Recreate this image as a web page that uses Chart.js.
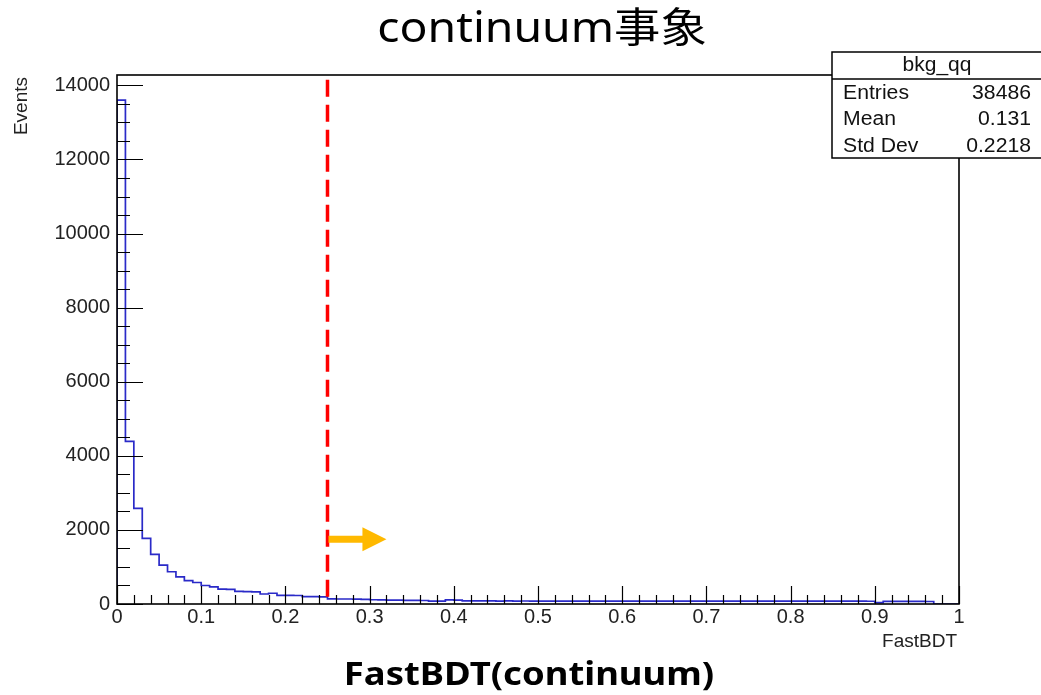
<!DOCTYPE html>
<html><head><meta charset="utf-8">
<script src="https://cdn.jsdelivr.net/npm/chart.js@4.4.0/dist/chart.umd.min.js"></script>
<style>html,body{margin:0;padding:0;background:#fff;}#wrap{width:1041px;height:695px;position:relative;}</style>
</head><body><div id="wrap"><canvas id="c" width="1041" height="695"></canvas></div>
<script>
// ---- data ----
const chartTitle = 'continuum事象';
const bottomLabel = 'FastBDT(continuum)';
const xAxisTitle = 'FastBDT';
const yAxisTitle = 'Events';
const histName = 'bkg_qq';
const statLabels = ['Entries', 'Mean', 'Std Dev'];
const statValues = ['38486', '0.131', '0.2218'];
const binWidth = 0.01;
const binCounts = [
  13600, 4390, 2580, 1770, 1340, 1050, 870, 730, 630, 580,
  500, 460, 400, 395, 340, 335, 330, 270, 290, 235,
  235, 230, 200, 200, 195, 140, 135, 135, 130, 125,
  115, 110, 105, 105, 100, 100, 95, 75, 80, 110,
  105, 85, 85, 82, 84, 80, 82, 80, 81, 79,
  80, 80, 78, 80, 79, 80, 78, 79, 80, 78,
  78, 79, 77, 78, 80, 78, 77, 78, 79, 77,
  78, 77, 78, 76, 78, 77, 76, 78, 77, 76,
  77, 76, 77, 75, 76, 77, 75, 76, 75, 74,
  35, 70, 72, 70, 71, 70, 68, 0, 0, 0
];
const xTickValues = [0, 0.1, 0.2, 0.3, 0.4, 0.5, 0.6, 0.7, 0.8, 0.9, 1];
const xTickLabels = ['0', '0.1', '0.2', '0.3', '0.4', '0.5', '0.6', '0.7', '0.8', '0.9', '1'];
const yTickValues = [0, 2000, 4000, 6000, 8000, 10000, 12000, 14000];
const yTickLabels = ['0', '2000', '4000', '6000', '8000', '10000', '12000', '14000'];
const xMin = 0, xMax = 1, yMin = 0, yMax = 14280;
const xMinorStep = 0.02, xMajorStep = 0.1, yMinorStep = 500, yMajorStep = 2000;
const cutValue = 0.25;
const cutLineTop = 14150;
const arrowEnd = 0.32;
const arrowY = 1750;

// ---- build histogram outline points ----
const histPoints = [{x: xMin, y: 0}];
binCounts.forEach((c, i) => histPoints.push({x: xMin + i * binWidth, y: c}));
histPoints.push({x: xMin + binCounts.length * binWidth, y: 0});

const SANS = '"Liberation Sans", Arial, Helvetica, sans-serif';
const CJK = '"Noto Sans", "Noto Sans CJK JP", sans-serif';

function stretchedText(ctx, text, x, y, sx) {
  ctx.save();
  ctx.translate(x, y);
  ctx.scale(sx, 1);
  ctx.fillText(text, 0, 0);
  ctx.restore();
}

const rootStyle = {
  id: 'rootStyle',
  afterDatasetsDraw(chart) {
    const {ctx, chartArea: a, scales: {x, y}} = chart;
    ctx.save();
    // ticks (inward, ROOT style)
    ctx.strokeStyle = '#000';
    ctx.lineWidth = 1.2;
    ctx.beginPath();
    const nY = Math.round(14000 / yMinorStep);
    for (let k = 0; k <= nY; k++) {
      const v = k * yMinorStep;
      const py = Math.round(y.getPixelForValue(v)) + 0.5;
      const len = (k % (yMajorStep / yMinorStep) === 0) ? 26 : 13;
      ctx.moveTo(a.left, py); ctx.lineTo(a.left + len, py);
    }
    const nX = Math.round((xMax - xMin) / xMinorStep);
    for (let k = 0; k <= nX; k++) {
      const v = xMin + k * xMinorStep;
      const px = Math.round(x.getPixelForValue(v)) + 0.5;
      const len = (k % Math.round(xMajorStep / xMinorStep) === 0) ? 18 : 9;
      ctx.moveTo(px, a.bottom); ctx.lineTo(px, a.bottom - len);
    }
    ctx.stroke();
    // frame
    ctx.lineWidth = 1.6;
    ctx.strokeRect(a.left, a.top, a.right - a.left, a.bottom - a.top);

    // cut line
    const cx = x.getPixelForValue(cutValue);
    ctx.strokeStyle = '#ff0000';
    ctx.lineWidth = 3.5;
    ctx.setLineDash([17, 8]);
    ctx.beginPath();
    ctx.moveTo(cx, y.getPixelForValue(cutLineTop));
    ctx.lineTo(cx, y.getPixelForValue(0));
    ctx.stroke();
    ctx.setLineDash([]);

    // arrow
    const ay = y.getPixelForValue(arrowY);
    const ax1 = x.getPixelForValue(arrowEnd);
    const headLen = 24, headH = 12, shaftH = 3.5;
    ctx.fillStyle = '#ffb900';
    ctx.beginPath();
    ctx.moveTo(cx + 1, ay - shaftH);
    ctx.lineTo(ax1 - headLen, ay - shaftH);
    ctx.lineTo(ax1 - headLen, ay - headH);
    ctx.lineTo(ax1, ay);
    ctx.lineTo(ax1 - headLen, ay + headH);
    ctx.lineTo(ax1 - headLen, ay + shaftH);
    ctx.lineTo(cx + 1, ay + shaftH);
    ctx.closePath();
    ctx.fill();

    // stats box
    const bx = 832, by = 52, bw = 220, bh = 106, hdr = 27;
    ctx.fillStyle = '#fff';
    ctx.fillRect(bx, by, bw, bh);
    ctx.strokeStyle = '#000';
    ctx.lineWidth = 1.5;
    ctx.strokeRect(bx, by, bw, bh);
    ctx.beginPath();
    ctx.moveTo(bx, by + hdr); ctx.lineTo(bx + bw, by + hdr);
    ctx.stroke();
    ctx.fillStyle = '#111';
    ctx.font = '20px ' + SANS;
    ctx.textBaseline = 'middle';
    ctx.textAlign = 'center';
    stretchedText(ctx, histName, 937, by + 13, 1.05);
    statLabels.forEach((lab, i) => {
      const ry = 93 + i * 26.5;
      ctx.textAlign = 'left';
      stretchedText(ctx, lab, 843, ry, 1.06);
      ctx.textAlign = 'right';
      stretchedText(ctx, statValues[i], 1031, ry, 1.06);
    });

    // axis titles
    ctx.fillStyle = '#222';
    ctx.font = '19px ' + SANS;
    ctx.textAlign = 'right';
    ctx.textBaseline = 'middle';
    ctx.fillText(xAxisTitle, 957, 642);
    ctx.save();
    ctx.translate(27, 77);
    ctx.rotate(-Math.PI / 2);
    ctx.textAlign = 'right';
    ctx.textBaseline = 'alphabetic';
    ctx.fillText(yAxisTitle, 0, 0);
    ctx.restore();

    // main title & bottom label
    ctx.fillStyle = '#000';
    ctx.textAlign = 'center';
    ctx.textBaseline = 'middle';
    ctx.font = '41px ' + CJK;
    stretchedText(ctx, chartTitle, 542, 30, 1.13);
    ctx.font = 'bold 32px ' + CJK;
    stretchedText(ctx, bottomLabel, 529, 676, 1.14);
    ctx.restore();
  }
};

new Chart(document.getElementById('c'), {
  type: 'line',
  data: {
    datasets: [{
      data: histPoints,
      stepped: 'before',
      borderColor: '#2a2ac8',
      borderWidth: 1.7,
      pointRadius: 0,
      fill: false,
      tension: 0
    }]
  },
  options: {
    responsive: false,
    animation: false,
    events: [],
    layout: {padding: {left: 0, top: 75, right: 82, bottom: 0}},
    plugins: {legend: {display: false}, title: {display: false}, tooltip: {enabled: false}},
    scales: {
      x: {
        type: 'linear', min: xMin, max: xMax,
        afterBuildTicks: s => { s.ticks = xTickValues.map(v => ({value: v})); },
        afterFit: s => { s.height = 91; },
        grid: {display: false, drawTicks: false},
        border: {display: false},
        ticks: {
          padding: 1,
          color: '#222',
          font: {family: SANS, size: 20},
          maxRotation: 0, autoSkip: false,
          callback: (v, i) => xTickLabels[i]
        }
      },
      y: {
        type: 'linear', min: yMin, max: yMax,
        afterBuildTicks: s => { s.ticks = yTickValues.map(v => ({value: v})); },
        afterFit: s => { s.width = 117; },
        grid: {display: false, drawTicks: false},
        border: {display: false},
        ticks: {
          padding: 7,
          color: '#222',
          font: {family: SANS, size: 20},
          autoSkip: false,
          callback: (v, i) => yTickLabels[i]
        }
      }
    }
  },
  plugins: [rootStyle]
});
</script>
</body></html>
